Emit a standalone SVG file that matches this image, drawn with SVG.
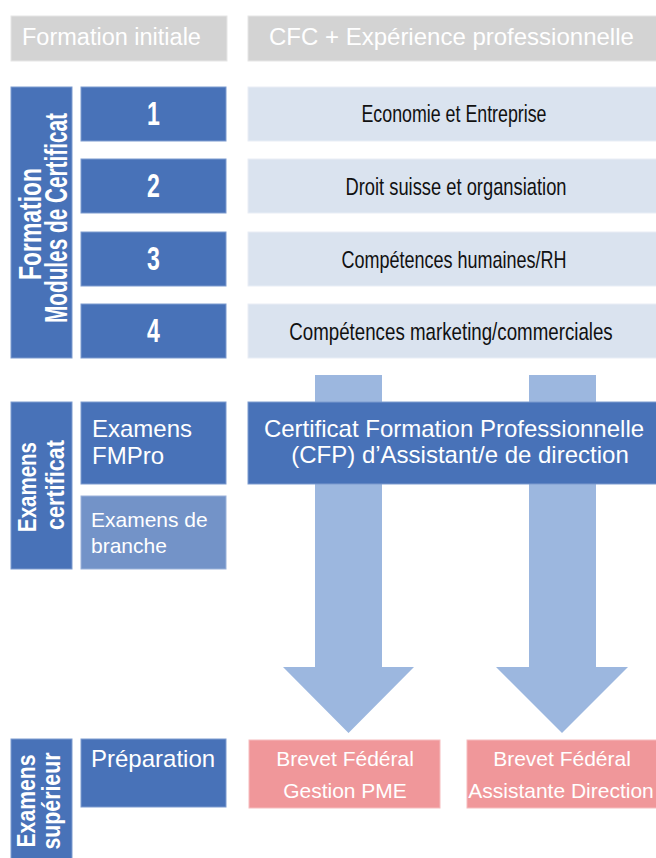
<svg xmlns="http://www.w3.org/2000/svg" width="656" height="858" viewBox="0 0 656 858">
<style>
.hdr{fill:#d3d3d3;stroke:#e6e6e6;stroke-width:1}
.dark{fill:#4872b8;stroke:#7d9bcf;stroke-width:1}
.mid{fill:#7393c8;stroke:#9bb2da;stroke-width:1}
.light{fill:#dae3ef;stroke:#e9eef6;stroke-width:1}
.pink{fill:#f0979a;stroke:#f6bcbe;stroke-width:1}
.arrow{fill:#9cb7df}
.t{font-family:"Liberation Sans",Arial,sans-serif;fill:#ffffff}
.mod{font-family:"Liberation Sans",Arial,sans-serif;fill:#111111;font-size:24px;text-anchor:middle}
.num{font-family:"Liberation Sans",Arial,sans-serif;fill:#ffffff;font-size:33px;font-weight:bold;text-anchor:middle}
.vert{font-family:"Liberation Sans",Arial,sans-serif;fill:#ffffff;font-weight:bold;text-anchor:middle}
</style>
<rect width="656" height="858" fill="#ffffff"/>
<g id="connectors">
<path class="arrow" d="M315,375 H382 V667 H414 L348.5,733 L283,667 H315 Z"/>
<path class="arrow" d="M529,375 H596 V667 H628 L562,733 L496,667 H529 Z"/>
</g>
<g id="header-left"><rect class="hdr" x="11" y="16" width="216" height="45"/><text class="t" x="22" y="45" font-size="23.5">Formation initiale</text></g>
<g id="header-right"><rect class="hdr" x="248" y="16" width="410" height="45"/><text class="t" x="269" y="45" font-size="24">CFC + Expérience professionnelle</text></g>
<g id="bar-formation"><rect class="dark" x="11" y="87" width="61" height="271"/>
<text class="vert" font-size="31" transform="translate(41,224) rotate(-90)" textLength="112" lengthAdjust="spacingAndGlyphs">Formation</text>
<text class="vert" font-size="31" transform="translate(67,218) rotate(-90)" textLength="210" lengthAdjust="spacingAndGlyphs">Modules de Certificat</text></g>
<g id="num-1"><rect class="dark" x="81" y="87" width="145" height="54"/><text class="num" transform="translate(153.5,125) scale(0.7,1)">1</text></g>
<g id="num-2"><rect class="dark" x="81" y="159" width="145" height="54"/><text class="num" transform="translate(153.5,197) scale(0.7,1)">2</text></g>
<g id="num-3"><rect class="dark" x="81" y="232" width="145" height="54"/><text class="num" transform="translate(153.5,270) scale(0.7,1)">3</text></g>
<g id="num-4"><rect class="dark" x="81" y="304" width="145" height="54"/><text class="num" transform="translate(153.5,342) scale(0.7,1)">4</text></g>
<g id="module-1"><rect class="light" x="248" y="87" width="410" height="54"/><text class="mod" transform="translate(454,122) scale(0.742,1)">Economie et Entreprise</text></g>
<g id="module-2"><rect class="light" x="248" y="159" width="410" height="54"/><text class="mod" transform="translate(456,195) scale(0.764,1)">Droit suisse et organsiation</text></g>
<g id="module-3"><rect class="light" x="248" y="232" width="410" height="54"/><text class="mod" transform="translate(454,268) scale(0.75,1)">Compétences humaines/RH</text></g>
<g id="module-4"><rect class="light" x="248" y="304" width="410" height="54"/><text class="mod" transform="translate(451,340) scale(0.78,1)">Compétences marketing/commerciales</text></g>
<g id="bar-certificat"><rect class="dark" x="11" y="402" width="61" height="167"/>
<text class="vert" font-size="25" transform="translate(36,487) rotate(-90)" textLength="90" lengthAdjust="spacingAndGlyphs">Examens</text>
<text class="vert" font-size="25" transform="translate(64,485) rotate(-90)" textLength="90" lengthAdjust="spacingAndGlyphs">certificat</text></g>
<g id="fmpro"><rect class="dark" x="81" y="402" width="145" height="82"/><text class="t" x="92" y="437" font-size="24">Examens</text><text class="t" x="92" y="464" font-size="24">FMPro</text></g>
<g id="branche"><rect class="mid" x="81" y="496" width="145" height="73"/><text class="t" x="91" y="527" font-size="21">Examens de</text><text class="t" x="91" y="553" font-size="21">branche</text></g>
<g id="cfp"><rect class="dark" x="248" y="402" width="410" height="82"/><text class="t" x="454" y="437" font-size="24" text-anchor="middle">Certificat Formation Professionnelle</text><text class="t" x="460" y="463" font-size="24" text-anchor="middle">(CFP) d’Assistant/e de direction</text></g>
<g id="bar-superieur"><rect class="dark" x="11" y="739" width="61" height="122"/>
<text class="vert" font-size="25" transform="translate(35,801) rotate(-90)" textLength="93" lengthAdjust="spacingAndGlyphs">Examens</text>
<text class="vert" font-size="25" transform="translate(60,801) rotate(-90)" textLength="97" lengthAdjust="spacingAndGlyphs">supérieur</text></g>
<g id="preparation"><rect class="dark" x="81" y="739" width="145" height="68"/><text class="t" x="91" y="767" font-size="24">Préparation</text></g>
<g id="brevet-pme"><rect class="pink" x="249" y="740" width="191" height="68"/><text class="t" x="345" y="766" font-size="21" text-anchor="middle">Brevet Fédéral</text><text class="t" x="345" y="798" font-size="21" text-anchor="middle">Gestion PME</text></g>
<g id="brevet-direction"><rect class="pink" x="467" y="740" width="191" height="68"/><text class="t" x="562" y="766" font-size="21" text-anchor="middle">Brevet Fédéral</text><text class="t" x="561" y="798" font-size="21" text-anchor="middle">Assistante Direction</text></g>
</svg>
